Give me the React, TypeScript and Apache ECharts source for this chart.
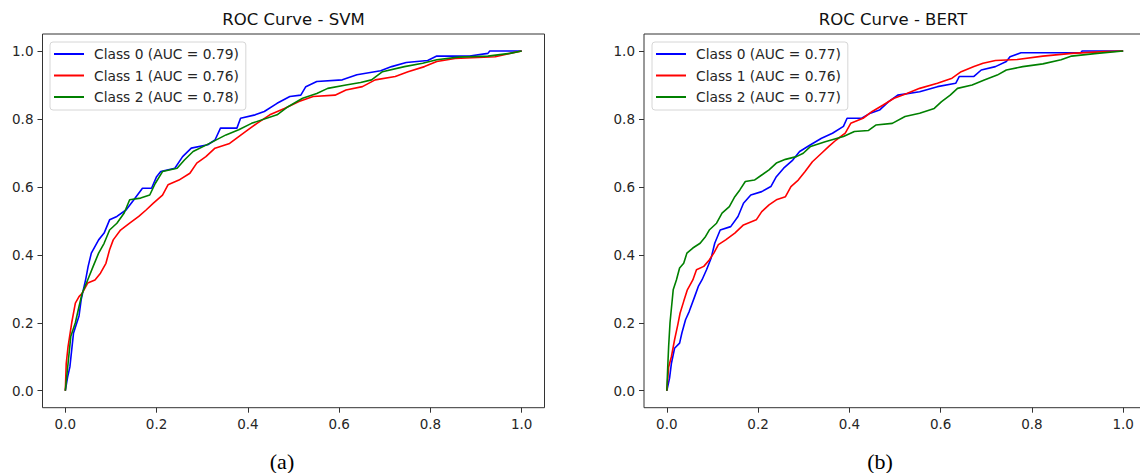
import React, { useEffect, useRef } from "react";
import * as echarts from "echarts";

type Pt = [number, number];

const panelTitles = ["ROC Curve - SVM", "ROC Curve - BERT"];
const panelCaptions = ["(a)", "(b)"];
const tickValues = [0, 0.2, 0.4, 0.6, 0.8, 1.0];
const classColors = ["#0000ff", "#ff0000", "#008000"];

const svmNames = ["Class 0 (AUC = 0.79)", "Class 1 (AUC = 0.76)", "Class 2 (AUC = 0.78)"];
const bertNames = ["Class 0 (AUC = 0.77)", "Class 1 (AUC = 0.76)", "Class 2 (AUC = 0.77)"];

const svm0: Pt[] = [
  [0, 0], [0.005, 0.04], [0.01, 0.07], [0.018, 0.17], [0.03, 0.22], [0.035, 0.27], [0.045, 0.33],
  [0.05, 0.366], [0.057, 0.405], [0.073, 0.444], [0.085, 0.464], [0.097, 0.503], [0.113, 0.513],
  [0.133, 0.532], [0.149, 0.56], [0.169, 0.596], [0.189, 0.596], [0.2, 0.63], [0.209, 0.645],
  [0.24, 0.655], [0.257, 0.689], [0.276, 0.714], [0.312, 0.724], [0.328, 0.738], [0.34, 0.773],
  [0.376, 0.773], [0.384, 0.802], [0.416, 0.812], [0.436, 0.822], [0.464, 0.846], [0.492, 0.866],
  [0.516, 0.87], [0.527, 0.895], [0.551, 0.91], [0.607, 0.915], [0.639, 0.93], [0.691, 0.942],
  [0.715, 0.954], [0.747, 0.966], [0.794, 0.972], [0.814, 0.985], [0.886, 0.985], [0.926, 0.993],
  [0.93, 1.0], [1, 1],
];
const svm1: Pt[] = [
  [0, 0], [0.002, 0.08], [0.006, 0.13], [0.014, 0.2], [0.022, 0.258], [0.03, 0.277], [0.037, 0.287],
  [0.049, 0.317], [0.065, 0.326], [0.077, 0.346], [0.089, 0.375], [0.097, 0.415], [0.105, 0.444],
  [0.121, 0.473], [0.141, 0.493], [0.161, 0.513], [0.177, 0.532], [0.193, 0.552], [0.213, 0.576],
  [0.225, 0.606], [0.249, 0.62], [0.273, 0.64], [0.288, 0.67], [0.308, 0.689], [0.328, 0.714],
  [0.36, 0.728], [0.38, 0.748], [0.4, 0.768], [0.42, 0.787], [0.448, 0.812], [0.48, 0.831],
  [0.512, 0.851], [0.543, 0.866], [0.591, 0.87], [0.615, 0.885], [0.651, 0.895], [0.679, 0.915],
  [0.723, 0.925], [0.751, 0.939], [0.787, 0.954], [0.814, 0.969], [0.854, 0.978], [0.942, 0.983],
  [0.974, 0.993], [1, 1],
];
const svm2: Pt[] = [
  [0, 0], [0.006, 0.08], [0.012, 0.16], [0.022, 0.2], [0.03, 0.248], [0.037, 0.287], [0.049, 0.326],
  [0.061, 0.366], [0.073, 0.405], [0.085, 0.434], [0.097, 0.473], [0.113, 0.493], [0.129, 0.523],
  [0.141, 0.562], [0.165, 0.567], [0.185, 0.576], [0.197, 0.61], [0.213, 0.645], [0.245, 0.655],
  [0.261, 0.679], [0.28, 0.704], [0.316, 0.728], [0.352, 0.753], [0.38, 0.768], [0.408, 0.787],
  [0.464, 0.812], [0.488, 0.836], [0.52, 0.861], [0.551, 0.875], [0.575, 0.89], [0.615, 0.9],
  [0.647, 0.907], [0.671, 0.915], [0.695, 0.939], [0.743, 0.954], [0.783, 0.964], [0.814, 0.974],
  [0.861, 0.982], [0.926, 0.985], [0.974, 0.993], [1, 1],
];

const bert0: Pt[] = [
  [0, 0], [0.006, 0.037], [0.01, 0.08], [0.017, 0.125], [0.028, 0.14], [0.033, 0.17], [0.041, 0.209],
  [0.049, 0.233], [0.061, 0.277], [0.069, 0.307], [0.077, 0.326], [0.087, 0.356], [0.097, 0.39],
  [0.105, 0.434], [0.117, 0.473], [0.14, 0.483], [0.156, 0.513], [0.168, 0.552], [0.184, 0.576],
  [0.208, 0.586], [0.228, 0.601], [0.24, 0.63], [0.256, 0.655], [0.276, 0.679], [0.291, 0.704],
  [0.315, 0.724], [0.339, 0.743], [0.363, 0.758], [0.387, 0.778], [0.395, 0.802], [0.427, 0.802],
  [0.446, 0.817], [0.466, 0.826], [0.486, 0.851], [0.506, 0.87], [0.554, 0.88], [0.593, 0.895],
  [0.633, 0.905], [0.641, 0.925], [0.673, 0.925], [0.689, 0.944], [0.72, 0.954], [0.744, 0.969],
  [0.752, 0.983], [0.776, 0.995], [0.907, 0.995], [0.91, 1.0], [1, 1],
];
const bert1: Pt[] = [
  [0, 0], [0.004, 0.07], [0.01, 0.1], [0.017, 0.15], [0.024, 0.194], [0.029, 0.228], [0.037, 0.263],
  [0.045, 0.297], [0.057, 0.326], [0.065, 0.356], [0.081, 0.366], [0.093, 0.385], [0.103, 0.405],
  [0.113, 0.43], [0.129, 0.444], [0.149, 0.464], [0.168, 0.488], [0.196, 0.503], [0.208, 0.527],
  [0.224, 0.547], [0.24, 0.562], [0.26, 0.571], [0.272, 0.601], [0.288, 0.62], [0.303, 0.645],
  [0.319, 0.674], [0.339, 0.699], [0.355, 0.719], [0.371, 0.738], [0.391, 0.758], [0.403, 0.787],
  [0.43, 0.802], [0.45, 0.822], [0.474, 0.841], [0.498, 0.861], [0.526, 0.875], [0.554, 0.89],
  [0.593, 0.905], [0.625, 0.92], [0.645, 0.939], [0.673, 0.954], [0.693, 0.964], [0.72, 0.972],
  [0.768, 0.975], [0.824, 0.985], [0.887, 0.993], [0.959, 0.998], [1, 1],
];
const bert2: Pt[] = [
  [0, 0], [0.002, 0.07], [0.004, 0.13], [0.007, 0.2], [0.014, 0.297], [0.021, 0.326], [0.028, 0.361],
  [0.037, 0.375], [0.044, 0.405], [0.057, 0.42], [0.073, 0.434], [0.085, 0.454], [0.093, 0.473],
  [0.109, 0.493], [0.121, 0.523], [0.137, 0.542], [0.149, 0.571], [0.16, 0.591], [0.172, 0.616],
  [0.192, 0.62], [0.208, 0.635], [0.224, 0.65], [0.24, 0.67], [0.26, 0.681], [0.284, 0.689],
  [0.299, 0.699], [0.315, 0.719], [0.347, 0.733], [0.387, 0.748], [0.411, 0.763], [0.442, 0.766],
  [0.458, 0.782], [0.494, 0.787], [0.522, 0.807], [0.554, 0.817], [0.586, 0.831], [0.602, 0.851],
  [0.621, 0.87], [0.637, 0.89], [0.669, 0.9], [0.697, 0.915], [0.724, 0.929], [0.744, 0.944],
  [0.78, 0.954], [0.824, 0.962], [0.864, 0.974], [0.887, 0.985], [0.943, 0.993], [1, 1],
];

const svmCurves = [svm0, svm1, svm2];
const bertCurves = [bert0, bert1, bert2];

const grids = [
  { left: 42.5, top: 34, width: 502, height: 373.7 },
  { left: 644, top: 34, width: 502, height: 373.7 },
];

export default function App() {
  const ref = useRef<HTMLDivElement>(null);
  useEffect(() => {
    if (!ref.current) return;
    const chart = echarts.init(ref.current, undefined, { renderer: "svg" });
    const font = "DejaVu Sans";
    const mkAxis = (i: number) => ({
      type: "value",
      gridIndex: i,
      min: -0.05,
      max: 1.05,
      axisLine: { show: false, onZero: false },
      splitLine: { show: false },
      axisTick: { show: true, length: 5, inside: false, customValues: tickValues, lineStyle: { color: "#333", width: 1 } },
      axisLabel: {
        customValues: tickValues,
        formatter: (v: number) => v.toFixed(1),
        fontFamily: font,
        fontSize: 13.5,
        color: "#262626",
        margin: 9,
      },
    });
    const series: any[] = [];
    [svmCurves, bertCurves].forEach((curves, p) => {
      const names = p === 0 ? svmNames : bertNames;
      curves.forEach((c, k) => {
        series.push({
          type: "line",
          name: names[k],
          xAxisIndex: p,
          yAxisIndex: p,
          data: c,
          symbol: "none",
          showSymbol: false,
          color: classColors[k],
          lineStyle: { color: classColors[k], width: 1.6 },
          clip: true,
        });
      });
    });
    const mkLegend = (names: string[], left: number) => ({
      orient: "vertical",
      left,
      top: 42,
      data: names,
      icon: "rect",
      itemWidth: 30,
      itemHeight: 2,
      itemGap: 5.5,
      padding: [4, 7, 5, 4],
      backgroundColor: "rgba(255,255,255,0.8)",
      borderColor: "#d6d6d6",
      borderWidth: 1,
      borderRadius: 3,
      selectedMode: false,
      textStyle: { fontFamily: font, fontSize: 13.8, color: "#262626", lineHeight: 16, padding: [0, 0, 0, 5] },
    });
    const titleStyle = { fontFamily: font, fontSize: 16.5, fontWeight: "normal", color: "#111", lineHeight: 20 };
    const capStyle = { fontFamily: "Liberation Serif", fontSize: 22, fontWeight: "normal", color: "#000", lineHeight: 24 };
    chart.setOption({
      animation: false,
      backgroundColor: "#ffffff",
      title: [
        { text: panelTitles[0], left: grids[0].left + grids[0].width / 2, top: 9, padding: 0, textAlign: "center", textStyle: titleStyle },
        { text: panelTitles[1], left: 893, top: 9, padding: 0, textAlign: "center", textStyle: titleStyle },
        { text: panelCaptions[0], left: 282, top: 449, padding: 0, textAlign: "center", textStyle: capStyle },
        { text: panelCaptions[1], left: 880, top: 449, padding: 0, textAlign: "center", textStyle: capStyle },
      ],
      legend: [mkLegend(svmNames, 50), mkLegend(bertNames, 652)],
      grid: grids.map((g) => ({ ...g, show: true, borderColor: "#333", borderWidth: 1, backgroundColor: "transparent", containLabel: false, outerBoundsMode: "none" })),
      xAxis: [mkAxis(0), mkAxis(1)],
      yAxis: [mkAxis(0), mkAxis(1)],
      series,
    });
    return () => chart.dispose();
  }, []);
  return (
    <div style={{ position: "absolute", left: 0, top: 0, width: 1140, height: 473, overflow: "hidden" }}>
      <div ref={ref} style={{ position: "absolute", left: 0, top: 0, width: 1170, height: 473 }} />
    </div>
  );
}
